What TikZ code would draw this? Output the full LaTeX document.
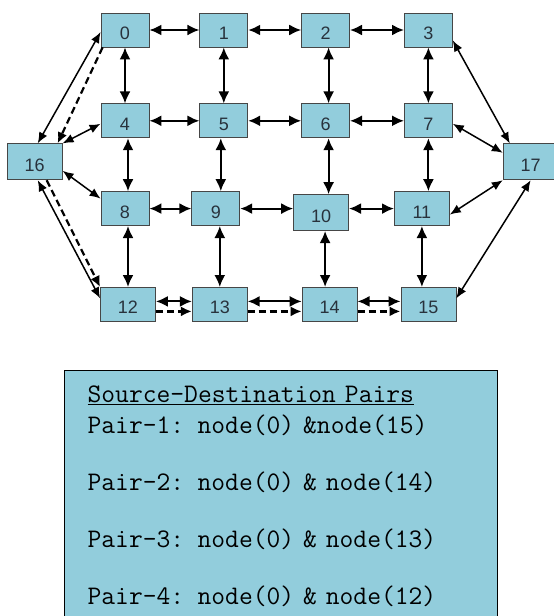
\documentclass[tikz,border=0pt]{standalone}
\usepackage{fontspec}
\setmainfont{Liberation Sans}
\usepackage{tikz}
\usetikzlibrary{arrows.meta}
\usetikzlibrary{positioning}
\definecolor{boxblue}{RGB}{146,205,220}
\definecolor{boxline}{RGB}{70,70,70}
\definecolor{labtext}{RGB}{40,50,60}
\tikzset{
    nb/.style={ % grid node box
        rectangle,
        fill=boxblue,
        draw=boxline,
        line width=0.8pt,
        text=labtext,
        font=\fontsize{18}{18}\selectfont,
        text height=19pt, % label sits a little low
        text depth=0pt,
        minimum width=48pt,
        minimum height=34pt,
        inner sep=0pt
        },
    nbw/.style={ % wider box
        nb,
        minimum width=55pt
        },
    nbt/.style={ % wider and taller box
        nbw,
        minimum height=36pt
        },
    arrb/.style={
        <->,
        >={Latex[length=12pt,width=11pt]},
        line width=2pt
        },
    arrbt/.style={ %thinner, diagonal edges
        <->,
        >={Latex[length=11pt,width=9pt]},
        line width=1.5pt
        },
    arrd/.style={ %dashed route edge
        ->,
        >={Latex[length=11pt,width=10pt]},
        dash pattern=on 7pt off 4pt,
        line width=2.2pt
        },
    pairbox/.style={
        rectangle,
        fill=boxblue,
        draw=black,
        line width=1.2pt,
        minimum width=433pt,
        minimum height=252pt,
        inner xsep=23pt,
        text width=387pt,
        align=left,
        font=\ttfamily\fontsize{26.8}{31}\selectfont
        }
}

\begin{document}
\begin{tikzpicture}[x=1pt,y=1pt]
		\useasboundingbox (0,0) rectangle (554,-616);
		
		%%%%% top row
		\node[nb] (n0) at (125,-30) {0};
		\node[nb,right=50pt of n0] (n1) {1};
		\node[nb,right=53pt of n1] (n2) {2};
		\node[nb,right=54pt of n2] (n3) {3};
		
		%%%%% second row
		\node[nb,below=56pt of n0] (n4) {4};
		\node[nb,below=56pt of n1] (n5) {5};
		\node[nb,below=56pt of n2] (n6) {6};
		\node[nb,below=56pt of n3] (n7) {7};
		
		%%%%% third row
		\node[nb,below=53pt of n4] (n8) {8};
		\node[nb,right=42pt of n8] (n9) {9};
		\node[nbt,right=53pt of n9,yshift=-4pt] (n10) {10};
		\node[nbw,right=45pt of n10,yshift=4pt] (n11) {11};
		
		%%%%% bottom row
		\node[nbw,below=61pt of n8,xshift=3pt] (n12) {12};
		\node[nbw,right=36pt of n12] (n13) {13};
		\node[nbw,right=54pt of n13] (n14) {14};
		\node[nbw,right=43pt of n14] (n15) {15};
		
		%%%%% source and sink
		\node[nbt,left=38pt of n4,yshift=-41pt] (n16) {16};
		\node[nbt,right=50pt of n7,yshift=-41pt] (n17) {17};
		
		%%%%% horizontal edges
		\draw[arrb] (n0) -- (n1);
		\draw[arrb] (n1) -- (n2);
		\draw[arrb] (n2) -- (n3);
		\draw[arrb] (n4) -- (n5);
		\draw[arrb] (n5) -- (n6);
		\draw[arrb] (n6) -- (n7);
		\draw[arrb] (n8) -- (n9);
		\draw[arrb] (n9.east) -- (n9.east -| n10.west);
		\draw[arrb] (n10.east |- n11.west) -- (n11.west);
		\draw[arrb] ([yshift=3pt]n12.east) -- ([yshift=3pt]n13.west);
		\draw[arrb] ([yshift=3pt]n13.east) -- ([yshift=3pt]n14.west);
		\draw[arrb] ([yshift=3pt]n14.east) -- ([yshift=3pt]n15.west);
		
		%%%%% vertical edges
		\draw[arrb] (n0) -- (n4);
		\draw[arrb] (n1) -- (n5);
		\draw[arrb] ([xshift=3pt]n2.south) -- ([xshift=3pt]n6.north);
		\draw[arrb] (n3) -- (n7);
		\draw[arrb] ([xshift=3pt]n4.south) -- ([xshift=3pt]n8.north);
		\draw[arrb] ([xshift=-3pt]n5.south) -- ([xshift=-3pt]n5.south |- n9.north);
		\draw[arrb] ([xshift=3pt]n6.south) -- ([xshift=3pt]n6.south |- n10.north);
		\draw[arrb] (n7.south) -- (n7.south |- n11.north);
		\draw[arrb] ([xshift=3pt]n8.south) -- ([xshift=3pt]n8.south |- n12.north);
		\draw[arrb] ([xshift=4pt]n9.south) -- ([xshift=4pt]n9.south |- n13.north);
		\draw[arrb] ([xshift=4pt]n10.south) -- ([xshift=4pt]n10.south |- n14.north);
		\draw[arrb] (n11.south) -- (n11.south |- n15.north);
		
		%%%%% edges from node 16
		\draw[arrbt] ([xshift=3pt]n16.north) -- ([yshift=-2pt]n0.west);
		\draw[arrbt] (n16.north east) -- ([yshift=-3pt]n4.west);
		\draw[arrbt] ([yshift=-9pt]n16.east) -- ([yshift=10pt]n8.west);
		\draw[arrbt] ([xshift=3pt]n16.south) -- ([yshift=6pt]n12.west);
		
		%%%%% edges to node 17
		\draw[arrbt] ([yshift=7pt]n3.south east) -- ([xshift=7pt]n17.north west);
		\draw[arrbt] ([yshift=-3pt]n7.east) -- ([yshift=9pt]n17.west);
		\draw[arrbt] ([yshift=-6pt]n11.east) -- (n17.south west);
		\draw[arrbt] ([yshift=6pt]n15.east) -- (n17.south);
		
		%%%%% dashed route edges
		\draw[arrd] ([xshift=2pt]n0.south west) -- ([xshift=-5pt]n16.north east);
		\draw[arrd] ([xshift=12pt]n16.south) -- (n12.north west);
		\draw[arrd] ([yshift=-7pt]n12.east) -- ([yshift=-7pt]n13.west);
		\draw[arrd] ([yshift=-7pt]n13.east) -- ([yshift=-7pt]n14.west);
		\draw[arrd] ([yshift=-7pt]n14.east) -- ([yshift=-7pt]n15.west);
		
		%%%%% pairs box
		\node[pairbox,anchor=north west] (pairs) at (64,-370) {
			\underline{Source-Destination Pairs}\\
			Pair-1: node(0) \&node(15)\\[26pt]
			Pair-2: node(0) \& node(14)\\[26pt]
			Pair-3: node(0) \& node(13)\\[26pt]
			Pair-4: node(0) \& node(12)};
\end{tikzpicture}
\end{document}
